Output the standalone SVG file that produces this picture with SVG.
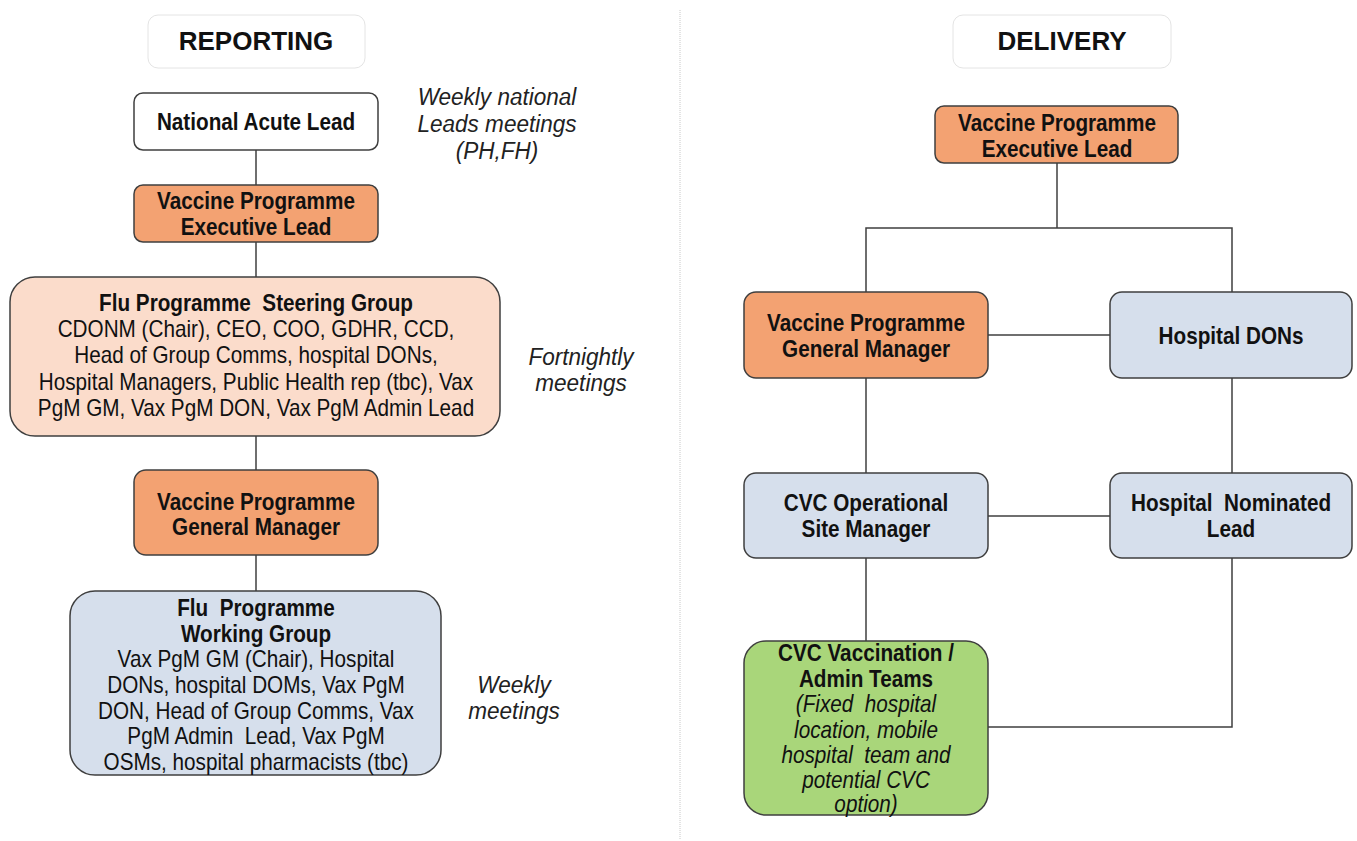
<svg xmlns="http://www.w3.org/2000/svg" width="1357" height="841" viewBox="0 0 1357 841">
  <style>
    .box { stroke: #3f3f3f; stroke-width: 1.5; }
    .white { fill: #ffffff; }
    .orange { fill: #f3a272; }
    .peach { fill: #fbdccb; }
    .blue { fill: #d6dfec; }
    .green { fill: #a9d67a; }
    .head { fill: #ffffff; stroke: #e4e4e4; stroke-width: 1; }
    text { white-space: pre; }
    .t { font-family: "Liberation Sans", Arial, sans-serif; font-size: 23px; fill: #111; text-anchor: middle; }
    .b { font-weight: bold; }
    .i { font-style: italic; }
    .h { font-family: "Liberation Sans", Arial, sans-serif; font-size: 26px; font-weight: bold; fill: #111; text-anchor: middle; }
    .note { font-family: "Liberation Sans", Arial, sans-serif; font-size: 23.5px; font-style: italic; fill: #222; text-anchor: middle; }
    .link { stroke: #3f3f3f; stroke-width: 1.5; fill: none; }
  </style>

  <rect width="1357" height="841" fill="#ffffff"/>

  <!-- panel divider -->
  <line x1="680" y1="10" x2="680" y2="840" stroke="#c8c8c8" stroke-width="1" stroke-dasharray="1 1"/>

  <!-- connectors -->
  <g id="connectors">
    <line class="link" x1="256" y1="150" x2="256" y2="185"/>
    <line class="link" x1="256" y1="242" x2="256" y2="277"/>
    <line class="link" x1="256" y1="436" x2="256" y2="470"/>
    <line class="link" x1="256" y1="555" x2="256" y2="591"/>

    <polyline class="link" points="1057,163 1057,228"/>
    <polyline class="link" points="866,292 866,228 1232,228 1232,292"/>
    <line class="link" x1="988" y1="335" x2="1110" y2="335"/>
    <line class="link" x1="866" y1="378" x2="866" y2="473"/>
    <line class="link" x1="1232" y1="378" x2="1232" y2="473"/>
    <line class="link" x1="988" y1="516" x2="1110" y2="516"/>
    <line class="link" x1="866" y1="558" x2="866" y2="641"/>
    <polyline class="link" points="1232,558 1232,727 988,727"/>
  </g>

  <!-- REPORTING side -->
  <g id="reporting-header">
    <rect class="head" x="148" y="15" width="217" height="53" rx="10"/>
    <text class="h" x="256" y="50">REPORTING</text>
  </g>

  <g id="national-acute-lead">
    <rect class="box white" x="134" y="93" width="244" height="57" rx="9"/>
    <g transform="translate(256 0) scale(0.9 1)">
      <text class="t b" x="0" y="130">National Acute Lead</text>
    </g>
  </g>

  <g id="rep-exec-lead">
    <rect class="box orange" x="134" y="185" width="244" height="57" rx="9"/>
    <g transform="translate(256 0) scale(0.9 1)">
      <text class="t b" x="0" y="209">Vaccine Programme</text>
      <text class="t b" x="0" y="235">Executive Lead</text>
    </g>
  </g>

  <g id="steering-group">
    <rect class="box peach" x="10" y="277" width="490" height="159" rx="25"/>
    <g transform="translate(256 0) scale(0.9 1)">
      <text class="t b" x="0" y="311">Flu Programme  Steering Group</text>
      <text class="t" x="0" y="337">CDONM (Chair), CEO, COO, GDHR, CCD,</text>
      <text class="t" x="0" y="363">Head of Group Comms, hospital DONs,</text>
      <text class="t" x="0" y="390">Hospital Managers, Public Health rep (tbc), Vax</text>
      <text class="t" x="0" y="416">PgM GM, Vax PgM DON, Vax PgM Admin Lead</text>
    </g>
  </g>

  <g id="rep-general-manager">
    <rect class="box orange" x="134" y="470" width="244" height="85" rx="12"/>
    <g transform="translate(256 0) scale(0.9 1)">
      <text class="t b" x="0" y="510">Vaccine Programme</text>
      <text class="t b" x="0" y="535">General Manager</text>
    </g>
  </g>

  <g id="working-group">
    <rect class="box blue" x="70" y="591" width="371" height="184" rx="25"/>
    <g transform="translate(256 0) scale(0.9 1)">
      <text class="t b" x="0" y="616">Flu  Programme</text>
      <text class="t b" x="0" y="642">Working Group</text>
      <text class="t" x="0" y="667">Vax PgM GM (Chair), Hospital</text>
      <text class="t" x="0" y="693">DONs, hospital DOMs, Vax PgM</text>
      <text class="t" x="0" y="719">DON, Head of Group Comms, Vax</text>
      <text class="t" x="0" y="744">PgM Admin  Lead, Vax PgM</text>
      <text class="t" x="0" y="770">OSMs, hospital pharmacists (tbc)</text>
    </g>
  </g>

  <g id="notes">
    <g transform="translate(497 0) scale(0.96 1)">
      <text class="note" x="0" y="105">Weekly national</text>
      <text class="note" x="0" y="132">Leads meetings</text>
      <text class="note" x="0" y="159">(PH,FH)</text>
    </g>
    <g transform="translate(581 0) scale(0.96 1)">
      <text class="note" x="0" y="365">Fortnightly</text>
      <text class="note" x="0" y="391">meetings</text>
    </g>
    <g transform="translate(514 0) scale(0.96 1)">
      <text class="note" x="0" y="693">Weekly</text>
      <text class="note" x="0" y="719">meetings</text>
    </g>
  </g>

  <!-- DELIVERY side -->
  <g id="delivery-header">
    <rect class="head" x="953" y="15" width="218" height="53" rx="10"/>
    <text class="h" x="1062" y="50">DELIVERY</text>
  </g>

  <g id="del-exec-lead">
    <rect class="box orange" x="935" y="106" width="243" height="57" rx="9"/>
    <g transform="translate(1057 0) scale(0.9 1)">
      <text class="t b" x="0" y="131">Vaccine Programme</text>
      <text class="t b" x="0" y="157">Executive Lead</text>
    </g>
  </g>

  <g id="del-general-manager">
    <rect class="box orange" x="744" y="292" width="244" height="86" rx="12"/>
    <g transform="translate(866 0) scale(0.9 1)">
      <text class="t b" x="0" y="331">Vaccine Programme</text>
      <text class="t b" x="0" y="357">General Manager</text>
    </g>
  </g>

  <g id="hospital-dons">
    <rect class="box blue" x="1110" y="292" width="242" height="86" rx="12"/>
    <g transform="translate(1231 0) scale(0.9 1)">
      <text class="t b" x="0" y="344">Hospital DONs</text>
    </g>
  </g>

  <g id="cvc-site-manager">
    <rect class="box blue" x="744" y="473" width="244" height="85" rx="12"/>
    <g transform="translate(866 0) scale(0.9 1)">
      <text class="t b" x="0" y="511">CVC Operational</text>
      <text class="t b" x="0" y="537">Site Manager</text>
    </g>
  </g>

  <g id="hospital-nominated-lead">
    <rect class="box blue" x="1110" y="473" width="242" height="85" rx="12"/>
    <g transform="translate(1231 0) scale(0.9 1)">
      <text class="t b" x="0" y="511">Hospital  Nominated</text>
      <text class="t b" x="0" y="537">Lead</text>
    </g>
  </g>

  <g id="cvc-teams">
    <rect class="box green" x="744" y="641" width="244" height="174" rx="22"/>
    <g transform="translate(866 0) scale(0.9 1)">
      <text class="t b" x="0" y="661">CVC Vaccination /</text>
      <text class="t b" x="0" y="687">Admin Teams</text>
      <text class="t i" x="0" y="712">(Fixed  hospital</text>
      <text class="t i" x="0" y="738">location, mobile</text>
      <text class="t i" x="0" y="763">hospital  team and</text>
      <text class="t i" x="0" y="788">potential CVC</text>
      <text class="t i" x="0" y="812">option)</text>
    </g>
  </g>
</svg>
